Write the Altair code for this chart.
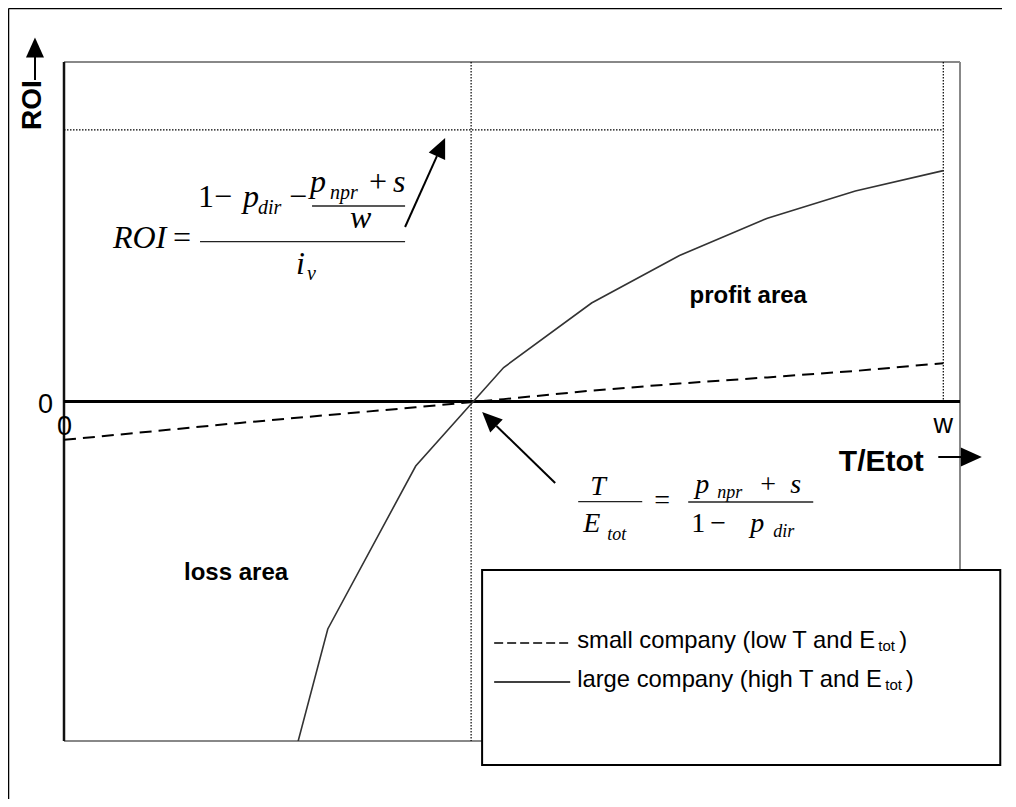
import altair as alt
import pandas as pd

# ---------------- data (x in T/Etot units with w = 10, y = ROI in % of half-range)
t_large = [2, 3, 4, 5, 6, 7, 8, 9, 10]
roi_large = [-165, -67, -19, 10, 29, 43, 54, 62, 68]
t_small = [0, 1, 2, 3, 4, 5, 6, 7, 8, 9, 10]
roi_small = [-11.3, -8.8, -6.3, -4.0, -1.7, 0.7, 3.2, 5.3, 7.1, 9.0, 11.3]
break_even = 4.63
w_value = 10
roi_ref = 80
x_max = 10.19
y_min, y_max = -100, 100

series_names = ["small company (low T and E", "large company (high T and E"]

xs = alt.Scale(domain=[0, x_max], nice=False, zero=False)
ys = alt.Scale(domain=[y_min, y_max], nice=False, zero=False)
X = alt.X("x:Q", scale=xs, axis=None)
Y = alt.Y("y:Q", scale=ys, axis=None)
X2 = alt.X2("x2:Q")
Y2 = alt.Y2("y2:Q")

ARIAL = "Liberation Sans"
TIMES = "Liberation Serif"
HEAD = "M0,-1L0.9,1L-0.9,1Z"


def rules(rows, **kw):
    df = pd.DataFrame(rows, columns=["x", "y", "x2", "y2"])
    return alt.Chart(df).mark_rule(**kw).encode(x=X, y=Y, x2=X2, y2=Y2)


def hrule(x1, x2, y, **kw):
    df = pd.DataFrame({"x": [x1], "x2": [x2], "y": [y]})
    return alt.Chart(df).mark_rule(**kw).encode(x=X, x2=X2, y=Y)


def vrule(x, y1, y2, **kw):
    df = pd.DataFrame({"x": [x], "y": [y1], "y2": [y2]})
    return alt.Chart(df).mark_rule(**kw).encode(x=X, y=Y, y2=Y2)


def box(x1, x2, y1, y2, **kw):
    df = pd.DataFrame({"x": [x1], "x2": [x2], "y": [y1], "y2": [y2]})
    return alt.Chart(df).mark_rect(**kw).encode(x=X, x2=X2, y=Y, y2=Y2)


def texts(rows, **kw):
    kw.setdefault("baseline", "alphabetic")
    df = pd.DataFrame(rows, columns=["x", "y", "text"])
    return alt.Chart(df).mark_text(**kw).encode(x=X, y=Y, text="text:N")


def heads(rows, size):
    df = pd.DataFrame(rows, columns=["x", "y", "a"])
    return alt.Chart(df).mark_point(shape=HEAD, filled=True, opacity=1, color="black",
                                     size=size, strokeWidth=0).encode(
        x=X, y=Y, angle=alt.Angle("a:Q", scale=None))


# outer frame: only its top and left edges fall on the page
frame_top = hrule(-0.631, 10.74, 115.76, color="black", strokeWidth=1.5)
frame_left = vrule(-0.631, 115.76, -117.2, color="black", strokeWidth=1.5)

# plot-area border
border_top = hrule(0, x_max, y_max, color="#888888", strokeWidth=2)
border_bottom = hrule(0, x_max, y_min, color="#888888", strokeWidth=2)
border_right = vrule(x_max, y_max, y_min, color="#888888", strokeWidth=2)
left_axis = vrule(0, y_max, y_min, color="#111111", strokeWidth=2.5)

# dotted helpers
DOT = dict(color="black", strokeWidth=1.2, strokeDash=[1.5, 1.5])
dot_be = vrule(break_even, y_max, y_min, **DOT)
dot_w = vrule(w_value, y_max, 0, **DOT)
dot_ref = hrule(0, w_value, roi_ref, **DOT)

zero_line = hrule(0, x_max, 0, color="black", strokeWidth=3)

df_large = pd.DataFrame({"x": t_large, "y": roi_large})
df_small = pd.DataFrame({"x": t_small, "y": roi_small})
line_large = alt.Chart(df_large).mark_line(color="#333333", strokeWidth=1.6, clip=True).encode(x=X, y=Y)
line_small = alt.Chart(df_small).mark_line(color="black", strokeWidth=2, strokeDash=[12, 7], clip=True).encode(x=X, y=Y)

# axis titles and tick labels
roi_title = texts([[-0.358, 87.33, "ROI"]], font=ARIAL, fontSize=28, fontWeight="bold",
                  angle=270, align="center", baseline="middle")
x_title = texts([[9.295, -20.47, "T/Etot"]], font=ARIAL, fontSize=30, fontWeight="bold",
                align="center")
tick_labels = texts([[-0.210, -3.39, "0"], [0.006, -9.87, "0"], [10.0, -9.28, "w"]],
                    font=ARIAL, fontSize=27, align="center")
areas = texts([[7.782, 29.01, "profit area"], [1.957, -52.58, "loss area"]],
              font=ARIAL, fontSize=24, fontWeight="bold", align="center")

arrow_lines = rules([[-0.330, 94.70, -0.330, 101.47],
                     [9.943, -16.35, 10.205, -16.35],
                     [3.879, 51.40, 4.241, 72.25],
                     [5.586, -24.01, 4.918, -7.19]],
                    color="black", strokeWidth=2)
arrow_heads = heads([[-0.330, 104.27, 0], [4.288, 74.93, 24.2], [4.837, -5.15, 314.2]], 400)
arrow_heads2 = heads([[10.319, -16.35, 90]], 441)

# formula 1: ROI = (1 - p_dir - (p_npr + s)/w) / i_v
f1_it = texts([[0.557, 45.21, "ROI"], [2.036, 57.29, "p"], [2.799, 61.71, "p"],
               [3.743, 61.71, "s"], [3.254, 51.10, "w"], [2.639, 37.55, "i"]],
              font=TIMES, fontSize=32, fontStyle="italic", align="left")
f1_sub = texts([[2.207, 55.23, "dir"], [3.026, 59.65, "npr"], [2.765, 35.79, "v"]],
               font=TIMES, fontSize=20, fontStyle="italic", align="left")
f1_up = texts([[1.342, 45.21, "="], [1.615, 57.29, "1"], [1.809, 57.29, "\u2212"],
               [2.662, 57.29, "\u2212"], [3.572, 61.71, "+"]],
              font=TIMES, fontSize=32, align="center")
f1_bars = rules([[1.547, 47.07, 3.879, 47.07], [2.821, 57.58, 3.879, 57.58]],
                color="#222222", strokeWidth=1.3)

# formula 2: T / E_tot = (p_npr + s) / (1 - p_dir)
f2_it = texts([[5.984, -27.54, "T"], [5.904, -38.44, "E"], [7.179, -26.95, "p"],
               [8.259, -26.95, "s"], [7.804, -38.44, "p"]],
              font=TIMES, fontSize=28, fontStyle="italic", align="left")
f2_sub = texts([[6.177, -40.80, "tot"], [7.429, -28.42, "npr"], [8.066, -39.91, "dir"]],
               font=TIMES, fontSize=18, fontStyle="italic", align="left")
f2_up = texts([[6.803, -31.66, "="], [7.213, -38.44, "1"], [7.440, -38.44, "\u2212"],
               [8.009, -26.95, "+"]],
              font=TIMES, fontSize=28, align="center")
f2_bars = rules([[5.848, -29.51, 6.576, -29.51], [7.099, -29.60, 8.521, -29.60]],
                color="#222222", strokeWidth=1.3)

# legend box
legend_box = box(4.755, 10.648, -49.63, -107.07, fill="white", stroke="black", strokeWidth=2)
leg_dash = hrule(4.892, 5.757, -71.13, color="black", strokeWidth=1.5, strokeDash=[9, 4])
leg_solid = hrule(4.892, 5.757, -82.62, color="black", strokeWidth=1.5)
leg_text = texts([[5.836, -72.61, series_names[0]], [5.836, -84.10, series_names[1]],
                  [9.499, -72.61, ")"], [9.574, -84.10, ")"]],
                 font=ARIAL, fontSize=23.8, align="left")
leg_sub = texts([[9.261, -73.49, "tot"], [9.340, -84.98, "tot"]],
                font=ARIAL, fontSize=15, align="left")

chart = alt.layer(
    frame_top, frame_left, border_top, border_bottom, border_right, left_axis,
    dot_be, dot_w, dot_ref, zero_line, line_small, line_large,
    roi_title, x_title, tick_labels, areas, arrow_lines, arrow_heads, arrow_heads2,
    f1_it, f1_sub, f1_up, f1_bars, f2_it, f2_sub, f2_up, f2_bars,
    legend_box, leg_dash, leg_solid, leg_text, leg_sub,
).properties(
    width=896, height=679,
    padding={"left": 56, "top": 54, "right": 42, "bottom": 58},
    autosize=alt.AutoSizeParams(type="none"),
).configure_view(stroke=None).configure(background="white")

chart.save("out.html", embed_options={"renderer": "svg", "actions": False})
